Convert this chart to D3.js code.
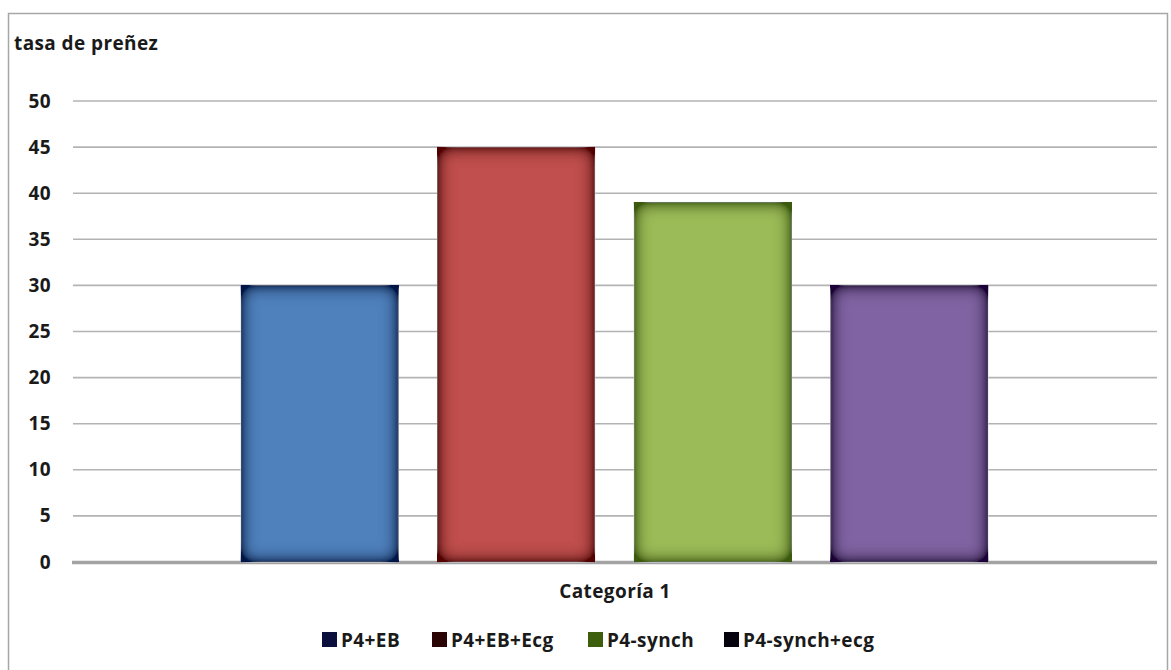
<!DOCTYPE html>
<html>
<head>
<meta charset="utf-8">
<script src="https://cdn.jsdelivr.net/npm/d3@7"></script>
<style>
  body { margin: 0; background: #fff; }
  text { font-family: "Open Sans", "DejaVu Sans", sans-serif; font-weight: bold; fill: #1a1a1a; letter-spacing: 0.4px; }
</style>
</head>
<body>
<div id="chart"></div>
<script>
// data
const category = "Categoría 1";
const seriesNames = ["P4+EB", "P4+EB+Ecg", "P4-synch", "P4-synch+ecg"];
const seriesValues = [30, 45, 39, 30];
const yTicks = [0, 5, 10, 15, 20, 25, 30, 35, 40, 45, 50];

const fills = ["#4f81bd", "#c0504d", "#9bbb59", "#8064a2"];
const edges = ["#04164a", "#520000", "#3b5a08", "#1c0638"];
const swatches = ["#0a0f3c", "#2a0404", "#3d5e0c", "#06020e"];

const width = 1171, height = 670;
const margin = {left: 73, right: 14, top: 101, bottom: 108};
const fontSize = '19px';

const svg = d3.select('#chart').append('svg')
    .attr('width', width).attr('height', height);

// outer frame
svg.append('rect')
    .attr('x', 8.5).attr('y', 13.5)
    .attr('width', 1159).attr('height', 680)
    .attr('fill', '#fff').attr('stroke', '#a6a6a6').attr('stroke-width', 1.5);

// soft inner shadow for the bars
const defs = svg.append('defs');
fills.forEach((c, i) => {
    const f = defs.append('filter').attr('id', 'inner' + i)
        .attr('x', '-5%').attr('y', '-5%').attr('width', '110%').attr('height', '110%');
    f.append('feGaussianBlur').attr('in', 'SourceAlpha').attr('stdDeviation', 9).attr('result', 'blur');
    f.append('feComposite').attr('in', 'SourceAlpha').attr('in2', 'blur')
        .attr('operator', 'arithmetic').attr('k2', 1.9).attr('k3', -1.9).attr('result', 'edge');
    f.append('feFlood').attr('flood-color', edges[i]).attr('result', 'col');
    f.append('feComposite').attr('in', 'col').attr('in2', 'edge').attr('operator', 'in').attr('result', 'shadow');
    const m = f.append('feMerge');
    m.append('feMergeNode').attr('in', 'SourceGraphic');
    m.append('feMergeNode').attr('in', 'shadow');
});

const y = d3.scaleLinear().domain([0, 50]).range([562, 101]);
const x0 = d3.scaleBand().domain([category]).range([margin.left, width - margin.right]);
const x1 = d3.scaleBand().domain(seriesNames).range([241, 988]).paddingInner(0.2);

// y axis title
svg.append('text').attr('x', 14).attr('y', 50)
    .style('font-size', fontSize).text('tasa de preñez');

// gridlines
const grid = svg.append('g');
grid.selectAll('line').data(yTicks.filter(d => d > 0)).enter().append('line')
    .attr('x1', margin.left).attr('x2', width - margin.right)
    .attr('y1', d => y(d)).attr('y2', d => y(d))
    .attr('stroke', '#b3b3b3').attr('stroke-width', 1.6);

// zero baseline
svg.append('line')
    .attr('x1', margin.left - 1).attr('x2', width - margin.right)
    .attr('y1', y(0) + 0.5).attr('y2', y(0) + 0.5)
    .attr('stroke', '#a3a3a3').attr('stroke-width', 3.5);

// y axis labels
const yAxis = d3.axisLeft(y).tickValues(yTicks).tickSize(0).tickPadding(0);
svg.append('g').attr('transform', 'translate(51,0)').call(yAxis)
    .call(g => g.select('.domain').remove())
    .call(g => g.selectAll('text').attr('fill', '#1a1a1a').style('font-size', fontSize)
        .style('font-family', '"Open Sans", sans-serif').style('font-weight', 'bold'));

// bars
svg.append('g').selectAll('rect').data(seriesValues).enter().append('rect')
    .attr('x', (d, i) => x1(seriesNames[i]))
    .attr('y', d => y(d))
    .attr('width', x1.bandwidth())
    .attr('height', d => y(0) - y(d))
    .attr('fill', (d, i) => fills[i])
    .attr('stroke', '#d9d9e6').attr('stroke-width', 1)
    .attr('filter', (d, i) => 'url(#inner' + i + ')');

// category label
svg.append('text').attr('x', x0(category) + x0.bandwidth() / 2).attr('y', 598)
    .attr('text-anchor', 'middle').style('font-size', fontSize).text(category);

// legend
const legendX = [322, 432, 588, 724];
const legend = svg.append('g').selectAll('g').data(seriesNames).enter().append('g')
    .attr('transform', (d, i) => 'translate(' + legendX[i] + ',632)');
legend.append('rect').attr('width', 15).attr('height', 15)
    .attr('fill', (d, i) => swatches[i]);
legend.append('text').attr('x', 19).attr('y', 15)
    .style('font-size', fontSize).text(d => d);
</script>
</body>
</html>
